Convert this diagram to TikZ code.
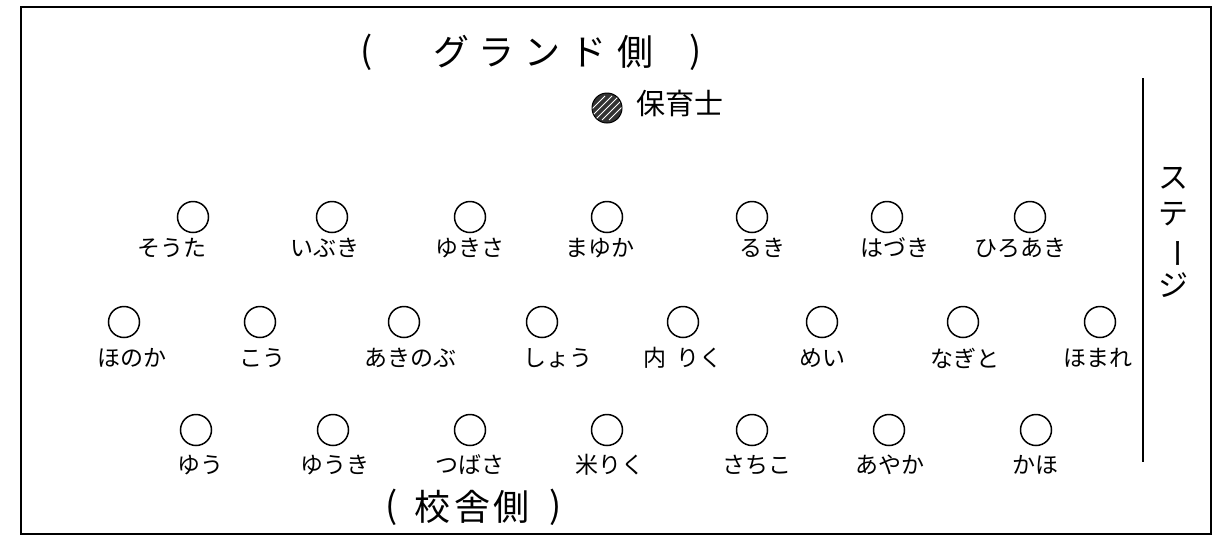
\documentclass[tikz,border=0pt]{standalone}
\usepackage{fontspec}
\usepackage{graphicx}
\usetikzlibrary{calc}
\setmainfont{Noto Sans CJK JP}
\newfontfamily\jp{Noto Sans CJK JP}
\tikzset{
  kid/.style={circle,draw=black,line width=1.5pt,minimum size=31pt,inner sep=0pt},
  lbl/.style={font=\jp\fontsize{23}{26}\selectfont,inner sep=0pt},
  side/.style={font=\jp\fontsize{36}{40}\selectfont,inner sep=0pt},
  frame/.style={draw=black,line width=2pt}
}
\begin{document}
\begin{tikzpicture}[x=1pt,y=-1pt]
\useasboundingbox (0,0) rectangle (1224,542);
\draw[frame] (21,7) rectangle (1211,534);
% top side label
\node[side] (gopen) at (367,52) {(};
\node[side] (ground) at (543,52) {グ\hspace{10pt}ラ\hspace{10pt}ン\hspace{10pt}ド\hspace{10pt}側};
\node[side] (gclose) at (696,52) {)};
% teacher
\node[circle,draw=black,fill=black!80,line width=1pt,minimum size=30pt,inner sep=0pt] (teacher) at (607,108) {};
\begin{scope}
\clip (teacher.center) circle (14.5pt);
\foreach \d in {-14,-7,0,7,14}
  \draw[white,line width=0.8pt] ($(teacher.center)+(\d-12,12)$) -- ($(teacher.center)+(\d+12,-12)$);
\end{scope}
\node[lbl,anchor=west,font=\jp\fontsize{29}{32}\selectfont] (teacherlbl) at (636,103) {保育士};
% stage
\coordinate (stagetop) at (1143,78);
\coordinate (stagebot) at (1143,462);
\draw[line width=2pt] (stagetop) -- (stagebot);
\node[font=\jp\fontsize{30}{36}\selectfont,align=center,inner sep=0pt] (stage) at (1173,232) {ス\\テ\\\rotatebox[origin=c]{-90}{ー}\\ジ};
% row 1
\foreach \n/\cx/\lx/\t in {a/193/172/そうた, b/332/325/いぶき, c/470/470/ゆきさ, d/607/600/まゆか, e/752/762/るき, f/887/895/はづき, g/1030/1020/ひろあき}{
  \node[kid] (r1\n) at (\cx,217) {};
  \node[lbl] (r1\n t) at (\lx,248) {\t};
}
% row 2
\foreach \n/\cx/\lx/\t in {a/124/132/ほのか, b/260/262/こう, c/404/410/あきのぶ, d/542/558/しょう, e/683/683/内\hspace{10pt}りく, f/822/822/めい, g/963/965/なぎと, h/1100/1098/ほまれ}{
  \node[kid] (r2\n) at (\cx,322) {};
  \node[lbl] (r2\n t) at (\lx,358) {\t};
}
% row 3
\foreach \n/\cx/\lx/\t in {a/196/200/ゆう, b/333/335/ゆうき, c/470/470/つばさ, d/607/610/米りく, e/752/757/さちこ, f/889/890/あやか, g/1036/1035/かほ}{
  \node[kid] (r3\n) at (\cx,430) {};
  \node[lbl] (r3\n t) at (\lx,465) {\t};
}
% bottom side label
\node[side] (sopen) at (392,507) {(};
\node[side] (school) at (472,507) {校\hspace{4pt}舎\hspace{4pt}側};
\node[side] (sclose) at (556,507) {)};
\end{tikzpicture}
\end{document}
